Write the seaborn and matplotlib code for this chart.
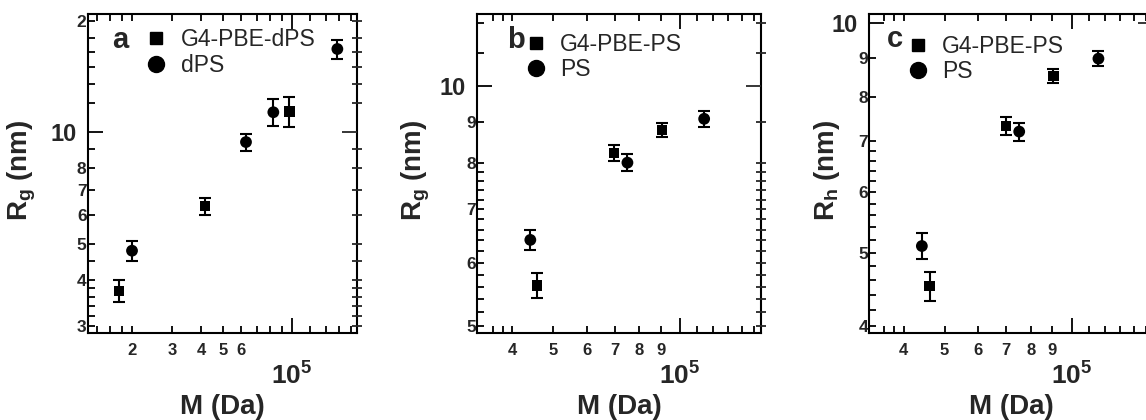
import numpy as np
import pandas as pd
import matplotlib
matplotlib.use("Agg")
import matplotlib.pyplot as plt
import seaborn as sns
from matplotlib.ticker import FixedLocator, FixedFormatter, NullFormatter
from matplotlib.lines import Line2D

# panel a: G4-PBE-dPS and dPS, Rg
a_sq_M = [1.76e4, 4.17e4, 9.73e4]
a_sq_R = [3.73, 6.32, 11.39]
a_sq_err = [0.25, 0.32, 1.05]
a_ci_M = [2.0e4, 6.29e4, 8.28e4, 1.576e5]
a_ci_R = [4.79, 9.42, 11.34, 16.81]
a_ci_err = [0.30, 0.50, 0.95, 1.00]

# panel b: G4-PBE-PS and PS, Rg
b_sq_M = [4.58e4, 6.98e4, 9.06e4]
b_sq_R = [5.62, 8.23, 8.80]
b_sq_err = [0.20, 0.19, 0.17]
b_ci_M = [4.41e4, 7.50e4, 1.141e5]
b_ci_R = [6.41, 8.01, 9.09]
b_ci_err = [0.19, 0.20, 0.20]

# panel c: G4-PBE-PS and PS, Rh
c_sq_M = [4.61e4, 6.98e4, 9.05e4]
c_sq_R = [4.52, 7.33, 8.53]
c_sq_err = [0.20, 0.20, 0.18]
c_ci_M = [4.42e4, 7.51e4, 1.156e5]
c_ci_R = [5.10, 7.21, 8.99]
c_ci_err = [0.20, 0.20, 0.20]

sns.set_theme(style="ticks")
plt.rcParams['font.family'] = ['Liberation Sans', 'DejaVu Sans']
plt.rcParams['mathtext.fontset'] = 'custom'
plt.rcParams['mathtext.rm'] = 'Liberation Sans'
plt.rcParams['mathtext.bf'] = 'Liberation Sans:bold'
plt.rcParams['mathtext.it'] = 'Liberation Sans:italic'

W, H = 1146, 420
fig = plt.figure(figsize=(W / 100, H / 100), dpi=100)


def px_axes(left, right, top=14, bottom=333):
    return fig.add_axes([left / W, (H - bottom) / H, (right - left) / W, (bottom - top) / H])


def draw_panel(ax, sq, ci, names, xlim, ylim, xminor, xlabels, yminor, ylabels,
               ylab, letter, letter_pos, leg_pos, ylab_x):
    df = pd.DataFrame({
        'M': list(sq[0]) + list(ci[0]),
        'R': list(sq[1]) + list(ci[1]),
        'sample': [names[0]] * len(sq[0]) + [names[1]] * len(ci[0]),
    })
    ax.errorbar(sq[0], sq[1], yerr=sq[2], fmt='none', ecolor='black',
                elinewidth=1.5, capsize=4.5, capthick=1.5, zorder=2)
    ax.errorbar(ci[0], ci[1], yerr=ci[2], fmt='none', ecolor='black',
                elinewidth=1.5, capsize=4.5, capthick=1.5, zorder=2)
    sns.scatterplot(data=df, x='M', y='R', style='sample', size='sample',
                    markers={names[0]: 's', names[1]: 'o'},
                    sizes={names[0]: 55, names[1]: 72},
                    color='black', edgecolor='black', linewidth=0,
                    legend=False, ax=ax, zorder=3)
    ax.set_xscale('log')
    ax.set_yscale('log')
    ax.set_xlim(*xlim)
    ax.set_ylim(*ylim)

    ax.xaxis.set_major_locator(FixedLocator([1e5]))
    ax.xaxis.set_major_formatter(FixedFormatter([r'$\mathbf{10^5}$']))
    ax.xaxis.set_minor_locator(FixedLocator(xminor))
    ax.xaxis.set_minor_formatter(FixedFormatter(xlabels))
    ax.yaxis.set_major_locator(FixedLocator([10]))
    ax.yaxis.set_major_formatter(FixedFormatter(['10']))
    ax.yaxis.set_minor_locator(FixedLocator(yminor))
    ax.yaxis.set_minor_formatter(FixedFormatter(ylabels))

    ax.tick_params(which='both', direction='in', top=True, right=False,
                   width=1.3, color='black')
    ax.tick_params(which='major', length=10.5)
    ax.tick_params(which='minor', length=4.8)
    ax.tick_params(axis='x', which='major', labelsize=19, pad=21)
    ax.tick_params(axis='x', which='minor', labelsize=12, pad=7)
    ax.tick_params(axis='y', which='major', labelsize=17, pad=8)
    ax.tick_params(axis='y', which='minor', labelsize=12.5, pad=1)
    for lab in ax.get_xticklabels(which='both') + ax.get_yticklabels(which='both'):
        lab.set_fontweight('bold')

    for sp in ax.spines.values():
        sp.set_linewidth(1.5)
        sp.set_color('black')

    # right axis ticks cross the spine
    rax = ax.twinx()
    rax.set_yscale('log')
    rax.set_ylim(*ylim)
    rax.yaxis.set_major_locator(FixedLocator([10]))
    rax.yaxis.set_minor_locator(FixedLocator(yminor))
    rax.yaxis.set_major_formatter(NullFormatter())
    rax.yaxis.set_minor_formatter(NullFormatter())
    rax.tick_params(which='major', direction='in', length=10.5, width=1.3)
    rax.tick_params(which='minor', direction='inout', length=7, width=1.3)
    for sp in rax.spines.values():
        sp.set_visible(False)

    ax.set_xlabel('M (Da)', fontsize=20, fontweight='bold')
    ax.xaxis.set_label_coords(0.5, -0.19)
    ax.set_ylabel(ylab, fontsize=20, fontweight='bold')
    ax.yaxis.set_label_coords(ylab_x, 0.51)

    ax.text(letter_pos[0], letter_pos[1], letter, transform=ax.transAxes,
            fontsize=21, fontweight='bold', va='baseline', ha='left')

    handles = [Line2D([], [], marker='s', ls='none', color='black', markersize=8),
               Line2D([], [], marker='o', ls='none', color='black', markersize=11.5)]
    ax.legend(handles, names, loc='upper left', bbox_to_anchor=leg_pos,
              frameon=False, fontsize=16.5, handlelength=1.0, handletextpad=0.55,
              borderaxespad=0, borderpad=0, labelspacing=0.1)


ax_a = px_axes(88, 357)
draw_panel(ax_a,
           (a_sq_M, a_sq_R, a_sq_err), (a_ci_M, a_ci_R, a_ci_err),
           ['G4-PBE-dPS', 'dPS'],
           (1.285e4, 1.92e5), (2.87, 20.9),
           [1.4e4, 1.6e4, 1.8e4, 2e4, 3e4, 4e4, 5e4, 6e4, 7e4, 8e4, 9e4,
            1.2e5, 1.4e5, 1.6e5, 1.8e5],
           ['', '', '', '2', '3', '4', '5', '6', '', '', '', '', '', '', ''],
           [3, 3.2, 3.4, 3.6, 3.8, 4, 4.5, 5, 6, 7, 8, 9, 12, 13.5, 15, 16.5, 18, 20],
           ['3', '', '', '', '', '4', '', '5', '6', '7', '8', '', '', '', '', '', '', '2'],
           r'$\mathbf{R_g}$ (nm)', 'a', (0.088, 0.893), (0.212, 0.955), -0.185)

bc_xminor = [3.6e4, 3.8e4, 4e4, 5e4, 6e4, 7e4, 8e4, 9e4,
             1.1e5, 1.2e5, 1.3e5, 1.4e5, 1.5e5]
bc_xlabels = ['', '', '4', '5', '6', '7', '8', '9', '', '', '', '', '']

ax_b = px_axes(477.3, 761)
draw_panel(ax_b,
           (b_sq_M, b_sq_R, b_sq_err), (b_ci_M, b_ci_R, b_ci_err),
           ['G4-PBE-PS', 'PS'],
           (3.30e4, 1.557e5), (4.90, 12.30),
           bc_xminor, bc_xlabels,
           [5, 5.2, 5.4, 5.6, 5.8, 6, 6.2, 6.4, 6.6, 6.8, 7, 7.2, 7.4, 7.6, 7.8,
            8, 9, 11, 12],
           ['5', '', '', '', '', '6', '', '', '', '', '7', '', '', '', '',
            '8', '9', '', ''],
           r'$\mathbf{R_g}$ (nm)', 'b', (0.104, 0.893), (0.166, 0.94), -0.16)

ax_c = px_axes(869.3, 1153)
draw_panel(ax_c,
           (c_sq_M, c_sq_R, c_sq_err), (c_ci_M, c_ci_R, c_ci_err),
           ['G4-PBE-PS', 'PS'],
           (3.32e4, 1.556e5), (3.92, 10.29),
           bc_xminor, bc_xlabels,
           [4, 4.2, 4.4, 4.6, 4.8, 5, 5.2, 5.4, 5.6, 5.8, 6, 6.2, 6.4, 6.6, 6.8,
            7, 8, 9],
           ['4', '', '', '', '', '5', '', '', '', '', '6', '', '', '', '',
            '7', '8', '9'],
           r'$\mathbf{R_h}$ (nm)', 'c', (0.061, 0.898), (0.132, 0.935), -0.097)

fig.savefig('out.png', dpi=100)
